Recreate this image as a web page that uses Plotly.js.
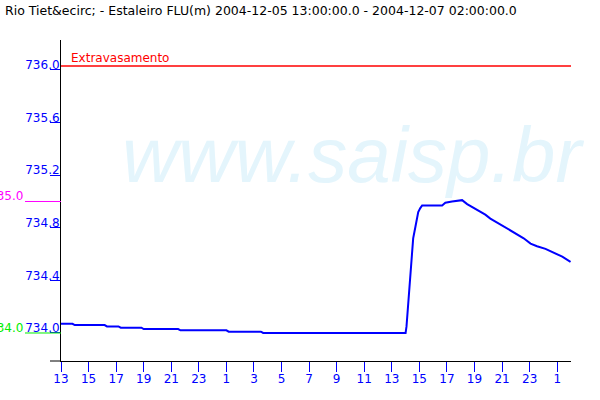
<!DOCTYPE html>
<html>
<head>
<meta charset="utf-8">
<script src="https://cdn.plot.ly/plotly-3.0.1.min.js"></script>
<style>html,body{margin:0;padding:0;background:#fff;}#chart{width:600px;height:400px;}</style>
</head>
<body>
<div id="chart"></div>
<script>
// Level readings (m)
const times = [
  '2004-12-05 13:00','2004-12-05 13:50','2004-12-05 14:00','2004-12-05 16:10','2004-12-05 16:20',
  '2004-12-05 17:10','2004-12-05 17:20','2004-12-05 18:50','2004-12-05 19:00','2004-12-05 21:30',
  '2004-12-05 21:40','2004-12-06 01:00','2004-12-06 01:10','2004-12-06 03:30','2004-12-06 03:40',
  '2004-12-06 14:00','2004-12-06 14:04','2004-12-06 14:13','2004-12-06 14:18','2004-12-06 14:24',
  '2004-12-06 14:28','2004-12-06 14:33','2004-12-06 14:43','2004-12-06 14:50','2004-12-06 14:55',
  '2004-12-06 15:04','2004-12-06 15:12','2004-12-06 16:39','2004-12-06 16:53','2004-12-06 17:22',
  '2004-12-06 18:06','2004-12-06 18:28','2004-12-06 18:56','2004-12-06 19:11','2004-12-06 19:47',
  '2004-12-06 20:09','2004-12-06 20:38','2004-12-06 21:14','2004-12-06 21:50','2004-12-06 22:34',
  '2004-12-06 23:04','2004-12-06 23:32','2004-12-07 00:09','2004-12-07 00:45','2004-12-07 01:22',
  '2004-12-07 01:58'
];
const levels = [
  734.07,734.07,734.06,734.06,734.05,
  734.05,734.04,734.04,734.03,734.03,
  734.02,734.02,734.01,734.01,734.00,
  734.00,734.05,734.25,734.40,734.52,
  734.63,734.72,734.81,734.88,734.92,
  734.95,734.97,734.97,734.99,735.00,
  735.01,734.98,734.95,734.94,734.90,
  734.87,734.84,734.80,734.76,734.72,
  734.68,734.66,734.64,734.61,734.58,
  734.54
];

const xRange = ['2004-12-05 13:00','2004-12-07 02:00'];
const xTickVals = [
  '2004-12-05 13:00','2004-12-05 15:00','2004-12-05 17:00','2004-12-05 19:00','2004-12-05 21:00',
  '2004-12-05 23:00','2004-12-06 01:00','2004-12-06 03:00','2004-12-06 05:00','2004-12-06 07:00',
  '2004-12-06 09:00','2004-12-06 11:00','2004-12-06 13:00','2004-12-06 15:00','2004-12-06 17:00',
  '2004-12-06 19:00','2004-12-06 21:00','2004-12-06 23:00','2004-12-07 01:00'
];
const xTickText = ['13','15','17','19','21','23','1','3','5','7','9','11','13','15','17','19','21','23','1'];

const yRange = [733.787, 736.228];
const yTickVals = [734.0, 734.4, 734.8, 735.2, 735.6, 736.0];
const yTickText = ['734.0','734.4','734.8','735.2','735.6','736.0'];

const overflowLevel = 736.03;
const overflowLabel = 'Extravasamento';
const alertLevel = 735.0;
const alertLabel = '735.0';
const baseLevel = 734.0;
const baseLabel = '734.0';

const titleText = 'Rio Tiet&amp;ecirc; - Estaleiro FLU(m) 2004-12-05 13:00:00.0 - 2004-12-07 02:00:00.0';
const watermark = 'www.saisp.br';

const blue = '#0000ff';
const font = 'DejaVu Sans, sans-serif';

const trace = {
  x: times, y: levels, type: 'scatter', mode: 'lines',
  line: {color: blue, width: 2},
  hoverinfo: 'skip'
};

const leftX = -36/510;

const layout = {
  width: 600, height: 400,
  margin: {l: 61, r: 29, t: 40, b: 39, pad: 0},
  paper_bgcolor: '#fff', plot_bgcolor: '#fff',
  showlegend: false,
  title: {
    text: titleText, x: 5/600, xref: 'container', xanchor: 'left',
    y: 1 - 11/400, yref: 'container', yanchor: 'middle',
    font: {family: font, size: 12.5, color: '#000'}
  },
  xaxis: {
    type: 'date', range: xRange, tickmode: 'array', tickvals: xTickVals, ticktext: xTickText,
    showgrid: false, zeroline: false, showline: true, linecolor: '#000', linewidth: 1,
    ticks: 'outside', ticklen: 10, tickcolor: blue, tickwidth: 1,
    ticklabelstandoff: -3,
    tickfont: {family: font, size: 12, color: blue}, fixedrange: true
  },
  yaxis: {
    range: yRange, tickmode: 'array', tickvals: yTickVals, ticktext: yTickText,
    showgrid: false, zeroline: false, showline: true, linecolor: '#000', linewidth: 1,
    ticks: 'outside', ticklen: 10, tickcolor: blue, tickwidth: 1,
    ticklabelstandoff: -12, ticklabelshift: -5,
    tickfont: {family: font, size: 12, color: blue}, fixedrange: true
  },
  shapes: [
    {type: 'line', xref: 'paper', yref: 'paper', x0: -11/510, x1: 0, y0: 0, y1: 0,
     line: {color: '#000', width: 1}},
    {type: 'line', xref: 'paper', yref: 'y', x0: 0, x1: 1, y0: overflowLevel, y1: overflowLevel,
     line: {color: '#ff0000', width: 1.5}},
    {type: 'line', xref: 'paper', yref: 'y', x0: leftX, x1: 0, y0: alertLevel, y1: alertLevel,
     line: {color: '#ff00ff', width: 1}},
    {type: 'line', xref: 'paper', yref: 'y', x0: leftX, x1: 0, y0: baseLevel, y1: baseLevel,
     line: {color: '#00ee00', width: 1}}
  ],
  annotations: [
    {text: watermark, xref: 'paper', yref: 'paper', x: (353-61)/510, y: (361-155)/321,
     xanchor: 'center', yanchor: 'middle', showarrow: false,
     font: {family: 'Liberation Sans, Arial, sans-serif', size: 78, color: 'rgb(228,245,252)', style: 'italic'}},
    {text: overflowLabel, xref: 'paper', yref: 'y', x: 8/510, y: overflowLevel,
     xanchor: 'left', yanchor: 'middle', yshift: 8, showarrow: false,
     font: {family: font, size: 12, color: '#ff0000'}},
    {text: alertLabel, xref: 'paper', yref: 'y', x: leftX, y: alertLevel,
     xanchor: 'right', yanchor: 'middle', yshift: 5, showarrow: false,
     font: {family: font, size: 12, color: '#ff00ff'}},
    {text: baseLabel, xref: 'paper', yref: 'y', x: leftX, y: baseLevel,
     xanchor: 'right', yanchor: 'middle', yshift: 5, showarrow: false,
     font: {family: font, size: 12, color: '#00ee00'}}
  ]
};

Plotly.newPlot('chart', [trace], layout, {displayModeBar: false, staticPlot: true});
</script>
</body>
</html>
